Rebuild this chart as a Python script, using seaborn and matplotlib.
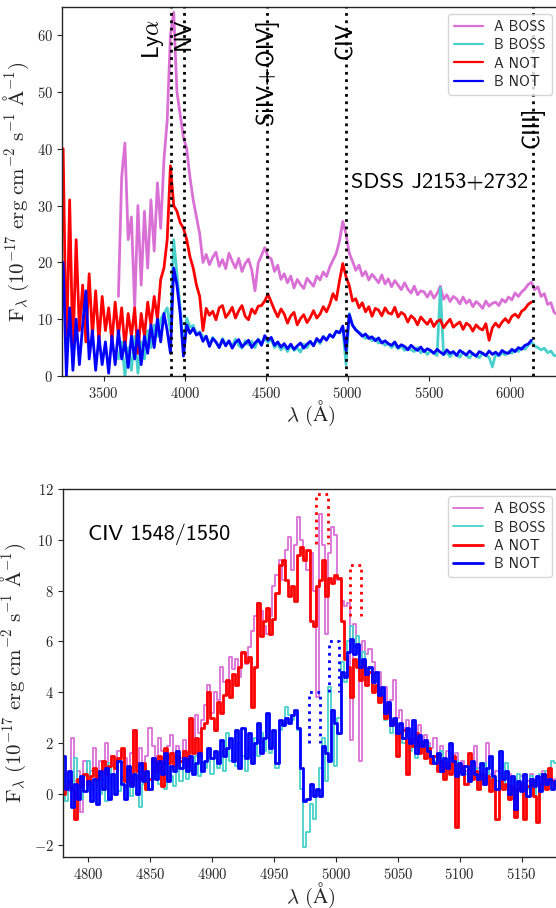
import numpy as np
import pandas as pd
import matplotlib
matplotlib.use("Agg")
import matplotlib.pyplot as plt
import seaborn as sns

# ---------------- data: top panel (full spectra), 20 A sampling ----------------
top_step = 20.0
a_not_start = 3250.0
a_not_flux = [40, 3, 31, 4, 24, 8, 16, 6, 18, 7,
              15, 6, 14, 8, 12, 6, 13, 7, 12, 5,
              11, 7, 12, 4, 11, 7, 13, 9, 14, 10,
              17, 19, 24, 37, 30, 29, 27, 26, 24, 21,
              19, 16, 14,
              8, 11.9, 10.7, 11.4, 9.9, 12.0, 12.4, 10.3, 11.1, 12.1,
              10.2, 11.5, 12.4, 10.5, 9.9, 11.8, 11.0, 12.3, 12.4, 13.2,
              14.4, 13.0, 11.6, 10.4, 11.8, 10.9, 9.3, 10.6, 11.2, 9.0,
              10.1, 10.8, 9.4, 10.3, 11.5, 10.2, 10.9, 12.2, 11.3, 12.6,
              14.5, 13.4, 16.8, 19.8, 17.5, 15.9, 13.2, 13.6, 12.0, 12.9,
              11.3, 12.2, 10.5, 11.9, 11.6, 10.6, 12.0, 11.1, 10.9, 12.1,
              10.4, 11.2, 10.8, 9.5, 10.6, 10.1, 9.0, 10.4, 9.7, 9.1,
              10.0, 8.7, 9.6, 9.9, 8.5, 9.3, 10.0, 8.6, 9.1, 9.5,
              8.2, 9.3, 8.9, 7.9, 9.0, 8.4, 8.1, 9.2, 6.3, 8.5,
              9.3, 8.6, 9.5, 10.1, 9.4, 10.5, 10.9, 10.3, 11.4, 11.8,
              12.6, 13.0]
b_not_start = 3250.0
b_not_flux = [20, 0, 12, 1, 10, 2, 9, 15, 3, 8,
              1, 7, 2, 6, 0.5, 7, 2, 8, 3, 6,
              1.5, 7, 3, 8, 2, 7, 4, 9, 5, 10,
              6, 11, 8, 4, 19, 16, 11, 3.5, 9, 7.5,
              8.4, 7.2, 7.6, 6.1, 7.0, 5.2, 6.6, 6.0, 5.0, 6.4,
              5.3, 6.2, 4.9, 5.9, 6.4, 5.1, 5.7, 6.3, 5.0, 5.8,
              6.4, 5.4, 7.1, 6.3, 6.8, 5.4, 6.0, 5.1, 5.7, 4.8,
              5.6, 4.7, 5.3, 5.8, 4.9, 5.6, 6.1, 5.3, 6.6, 6.0,
              6.9, 6.3, 7.3, 6.8, 7.9, 7.6, 8.8, 4.5, 10.8, 8.9,
              8.1, 7.6, 7.0, 7.4, 6.6, 6.9, 6.2, 6.7, 5.8, 6.2,
              5.7, 5.4, 6.0, 5.0, 5.5, 5.2, 4.6, 5.4, 4.9, 4.5,
              5.1, 4.3, 4.8, 4.5, 4.0, 4.7, 4.2, 3.8, 4.6, 4.0,
              4.3, 3.6, 4.5, 4.1, 3.7, 4.4, 3.9, 3.5, 4.3, 4.0,
              3.6, 4.4, 3.8, 4.2, 3.7, 4.5, 4.1, 4.0, 4.7, 4.3,
              5.0, 4.7, 5.4, 5.6, 6.3]
a_boss_start = 3590.0
a_boss_flux = [14, 35, 41, 24, 28, 12, 30, 16, 29, 19,
               31, 22, 34, 26, 38, 45, 60, 64, 50, 46,
               42, 40, 35, 31, 28, 25, 20,
               21.4, 19.6, 20.9, 21.8, 19.3, 20.5, 18.9, 21.6, 20.2, 19.0,
               20.7, 18.4, 19.8, 20.6, 18.7, 15.0, 19.9, 21.2, 22.6, 21.0,
               20.6, 18.4, 19.5, 17.0, 18.0, 16.4, 17.6, 15.5, 17.0, 16.1,
               15.4, 17.2, 16.5, 15.8, 17.6, 16.9, 18.3, 17.5, 19.2, 20.4,
               21.6, 23.8, 27.2, 25.0, 21.6, 20.2, 18.6, 19.5, 17.6, 18.4,
               16.9, 17.9, 17.2, 16.4, 17.8, 16.2, 17.1, 15.7, 16.8, 16.0,
               15.2, 16.4, 15.3, 14.6, 15.8, 14.3, 15.0, 14.8, 13.9, 14.9,
               13.7, 14.5, 15.8, 13.5, 14.3, 13.1, 14.0, 13.6, 12.7, 13.9,
               12.8, 13.4, 12.2, 13.1, 12.6, 11.9, 13.2, 12.3, 12.8, 13.0,
               12.4, 13.5, 13.0, 13.9, 13.4, 14.6, 14.0, 14.8, 15.3, 16.1,
               16.5, 15.2, 15.7, 14.0, 14.5, 12.6, 12.9, 11.2, 10.8]
b_boss_start = 3590.0
b_boss_flux = [3, 6, 0, 5, 1, 7, 0.5, 6, 3, 8,
               5, 9, 7, 10, 11, 12, 8, 24, 18, 12,
               5,
               10.2, 8.6, 8.9, 7.3, 7.8, 6.8, 7.0, 5.5, 6.8, 5.9,
               5.0, 6.6, 5.6, 6.1, 5.2, 6.5, 5.4, 4.9, 6.2, 5.5,
               6.1, 5.0, 6.5, 5.7, 6.6, 5.9, 6.5, 5.0, 5.6, 4.6,
               5.3, 4.3, 5.5, 4.5, 4.9, 4.2, 5.6, 5.0, 6.0, 5.4,
               6.4, 5.7, 7.0, 6.4, 7.2, 6.9, 7.8, 7.6, 8.5, 2.0,
               11.0, 9.0, 8.2, 7.7, 7.2, 6.6, 7.0, 6.2, 6.6, 5.8,
               6.1, 5.4, 5.7, 5.0, 5.6, 4.8, 5.3, 4.5, 5.0, 4.6,
               4.3, 5.0, 4.1, 4.6, 3.8, 4.4, 4.0, 3.6, 15.5, 3.7,
               4.2, 3.4, 4.1, 3.8, 3.3, 4.2, 3.6, 3.2, 4.0, 3.5,
               3.2, 4.0, 3.6, 3.3, 1.6, 3.8, 3.5, 4.1, 3.7, 4.3,
               4.0, 4.6, 4.3, 5.0, 4.7, 5.4, 6.0, 5.3, 5.0, 4.6,
               4.9, 4.1, 4.4, 3.6, 3.6]

line_names = [r"Ly$\alpha$", "NV", "SiIV+OIV]", "CIV", "CIII]"]
line_waves = [3911, 3991, 4502, 4988, 6138]
line_label_x = [3803, 3991, 4502, 4988, 6138]
line_label_top = [62.8, 63.0, 63.0, 62.3, 47.4]

# ---------------- data: bottom panel (CIV zoom), 2.5 A sampling ----------------
zoom_start = 4780.0
zoom_step = 2.5
a_not_civ = [0.0, 0.3, 0.5, 0.2, -1.0, 0.6, 0.3, 0.8, 0.4, 0.7,
             1.0, 0.6, 0.9, 1.3, 0.8, 1.1, 1.5, 1.0, 1.4, 1.8,
             0.5, 1.0, 0.4, 2.5, 0.9, 0.6, 1.2, 0.2, 0.6, 1.4,
             0.9, 1.5, 0.3, 1.8, 1.2, 1.6, 1.1, 1.5, 1.3, 1.7,
             1.1, 3.0, 1.6, 2.2, 1.5, 2.6, 2.8, 4.0, 3.0, 2.5,
             3.6, 3.2, 3.9, 4.5, 3.8, 4.7, 4.3, 5.0, 5.6, 5.2,
             5.4, 3.4, 5.0, 7.5, 6.2, 6.8, 7.3, 6.3, 6.9, 7.9,
             9.0, 9.2, 8.4, 7.8, 8.2, 7.6, 9.4, 9.7, 9.2, 9.6,
             6.8, 6.6, 8.2, 8.4, 9.2, 7.8, 8.5, 8.3, 8.6, 8.5,
             6.8, 5.3, 5.0, 3.8, 5.3, 5.0, 4.5, 5.2, 4.3, 4.8,
             4.0, 4.3, 3.6, 3.8, 3.0, 3.5, 2.7, 2.9, 1.5, 2.4,
             2.5, 0.8, 2.2, 1.9, 2.4, 1.6, 2.0, 1.4, 1.8, 1.2,
             1.5, 0.9, 1.3, 0.6, 1.2, 0.8, 1.5, -1.3, 0.9, 1.1,
             0.4, 1.6, 0.6, 0.9, 0.2, 0.8, 0.4, 0.7, 0.1, 0.6,
             -1.0, 0.5, 0.2, 0.4, -0.2, 0.3, -0.9, 0.2, 0.4, -1.0,
             0.3, 0.6, -0.1, -1.1, 0.4, 0.8, 0.2, 1.0, 0.5, 0.3]
a_boss_civ = [0.3, 0.8, 0.1, 2.2, 0.5, 0.9, -0.7, 1.3, 0.4, 0.9,
              1.8, 0.7, 1.3, 0.9, 2.0, 1.0, 1.5, 0.8, 1.7, 1.2,
              1.4, 0.9, 1.6, 2.5, 1.2, 1.8, 1.1, 1.5, 2.6, 1.9,
              1.5, 2.2, 1.7, 1.3, 1.9, 2.3, 1.6, 1.9, 1.4, 2.1,
              1.6, 2.2, 1.8, 3.1, 2.4, 2.9, 3.5, 4.3, 3.2, 4.0,
              3.7, 5.0, 4.4, 3.9, 5.4, 4.9, 5.3, 4.6, 5.5, 5.1,
              5.8, 6.4, 7.0, 7.5, 7.2, 6.6, 6.3, 7.0, 8.2, 8.6,
              9.2, 8.4, 9.6, 10.1, 8.8, 9.8, 10.9, 10.0, 9.3, 8.8,
              9.5, 8.0, 3.8, 11.0, 9.8, 6.3, 9.5, 10.5, 10.2, 8.4,
              7.6, 7.4, 7.5, 2.1, 6.7, 5.8, 1.3, 6.0, 5.5, 5.7,
              5.2, 4.6, 4.8, 3.9, 4.2, 3.4, 3.7, 4.5, 3.0, 3.3,
              2.6, 2.9, 2.2, 2.8, 2.4, 2.7, 1.9, 2.3, 2.0, 1.8,
              2.2, 1.5, 1.9, 1.2, 1.7, 1.4, 1.1, 1.6, 1.0, 1.3,
              0.9, 1.2, 0.7, 1.9, 1.0, 0.6, 1.1, 2.0, 0.8, 0.5,
              0.9, 0.4, 0.7, 0.3, 0.8, 0.2, 0.6, 0.4, 0.7, 0.3,
              0.5, 0.8, 0.2, 0.6, 0.4, 0.9, 0.3, 0.7, 0.5, 0.6]
b_not_civ = [1.5, 0.2, 0.9, -0.5, 0.4, -0.2, 0.7, 0.1, 0.5, -0.3,
             0.6, -0.4, 0.9, 0.2, 1.0, -0.2, 0.8, 0.0, 1.3, 0.4,
             -0.2, 1.1, 0.3, 0.8, 0.0, 1.2, 0.5, 0.9, 0.2, 1.4,
             0.6, 1.3, 0.8, 1.6, 0.5, 1.1, 0.9, 1.7, 1.0, 1.4,
             0.9, 1.5, 0.8, 1.2, 1.6, 0.9, 1.3, 1.8, 1.4, 1.7,
             1.2, 2.1, 1.5, 1.8, 2.2, 1.3, 2.5, 1.0, 2.6, 1.4,
             2.4, 1.2, 2.0, 2.8, 1.6, 2.2, 3.2, 1.8, 2.5, 1.2,
             2.9, 2.7, 3.0, 2.8, 3.1, 3.3, 2.6, 1.0, -0.3, -0.2,
             0.4, -0.1, 0.2, -0.1, 1.9, 1.6, 1.3, 3.3, 2.8, 2.4,
             4.8, 4.6, 5.6, 6.1, 5.5, 5.9, 5.0, 5.3, 4.7, 5.0,
             4.4, 4.8, 3.9, 4.2, 3.2, 3.6, 2.7, 3.0, 2.4, 2.8,
             2.2, 2.6, 2.0, 2.9, 1.6, 2.3, 1.9, 2.1, 1.7, 1.5,
             1.2, 1.6, 0.9, 1.4, 1.0, 2.0, 1.3, 0.7, 1.2, 0.8,
             1.1, 0.5, 1.3, 0.8, 0.6, 1.2, 0.4, 1.0, 1.5, 0.7,
             0.2, 1.7, 0.6, 0.9, 0.0, 0.7, -0.6, 0.5, 0.1, 0.8,
             -0.1, 0.6, 0.3, 0.7, 0.1, 0.8, 0.4, 0.6, 0.2, 0.5]
b_boss_civ = [0.8, -0.3, 0.6, 0.1, 1.4, 0.3, -0.2, 0.7, 1.3, 0.2,
              0.5, 0.9, 0.0, 0.6, -0.3, 1.2, 0.4, 0.8, 0.1, 0.7,
              0.3, 0.9, -0.1, 0.5, 1.1, -0.5, 0.4, 0.8, 0.2, 0.6,
              1.2, 0.4, 0.9, 0.2, 1.5, 0.7, 0.3, 1.0, 0.5, 1.3,
              0.6, 1.1, 0.9, 1.5, 0.7, 1.2, 1.0, 1.6, 0.8, 1.4,
              1.0, 1.6, 0.9, 2.4, 1.3, 1.8, 1.1, 2.0, 1.5, 0.9,
              1.8, 1.2, 2.2, 1.5, 2.4, 1.7, 3.1, 1.6, 2.0, 1.0,
              2.5, 2.8, 3.4, 3.1, 2.9, 3.2, 2.5, 0.2, -2.1, -1.5,
              -0.4, -1.0, 0.1, 1.0, 2.2, 0.5, 4.2, 3.3, 1.1, 3.0,
              5.2, 4.4, 6.0, 6.6, 5.8, 6.2, 5.2, 5.6, 4.5, 4.9,
              4.1, 4.5, 3.6, 4.0, 2.9, 3.3, 2.4, 2.8, 2.2, 2.5,
              2.0, 2.4, 1.7, 2.5, 1.4, 2.1, 1.6, 2.0, 1.9, 1.4,
              1.3, 1.1, 1.7, 1.2, 0.8, 1.6, 1.0, 1.3, 0.9, 1.1,
              0.8, 1.3, 0.6, 1.0, 0.9, 0.5, 1.2, 0.7, 1.4, 0.6,
              0.5, 1.0, 0.3, 1.2, -0.2, 0.6, 0.1, 0.8, 0.3, 0.4,
              0.2, 0.7, -0.1, 0.5, 0.8, 0.3, 0.9, 0.6, 1.3, 1.2]

# absorption doublet markers (left edge, right edge, bottom, top)
absA_x0 = [4984.0, 5011.6]
absA_x1 = [4993.3, 5020.2]
absA_y0 = [9.85, 7.0]
absA_y1 = [11.8, 9.0]
absB_x0 = [4977.9, 4994.1]
absB_x1 = [4986.8, 5002.7]
absB_y0 = [2.0, 4.0]
absB_y1 = [4.0, 6.0]

series_names = ["A BOSS", "B BOSS", "A NOT", "B NOT"]
series_colors = ["orchid", "mediumturquoise", "red", "blue"]

# ---------------- style ----------------
sns.set_theme(style="ticks")
plt.rcParams.update({
    "font.family": "serif",
    "font.serif": ["cmr10"],
    "mathtext.fontset": "cm",
    "axes.formatter.use_mathtext": True,
    "axes.unicode_minus": True,
    "xtick.labelsize": 10.5,
    "ytick.labelsize": 10.5,
    "xtick.major.size": 3.5,
    "ytick.major.size": 3.5,
    "xtick.major.width": 0.8,
    "ytick.major.width": 0.8,
    "axes.linewidth": 1.0,
    "axes.edgecolor": "0.15",
})
SANS = "cmss10"

fig = plt.figure(figsize=(5.56, 9.08), dpi=100)
ax1 = fig.add_axes([0.1124, 0.5859, 0.893, 0.4067])
ax2 = fig.add_axes([0.1138, 0.0558, 0.8915, 0.4056])

def top_frame(start, flux):
    flux = np.asarray(flux, dtype=float)
    return pd.DataFrame({"wave": start + top_step * np.arange(len(flux)), "flux": flux})

top_data = [(a_boss_start, a_boss_flux), (b_boss_start, b_boss_flux),
            (a_not_start, a_not_flux), (b_not_start, b_not_flux)]
for (st, fl), name, col in zip(top_data, series_names, series_colors):
    df = top_frame(st, fl)
    sns.lineplot(data=df, x="wave", y="flux", ax=ax1, color=col, lw=2.0,
                 label=name, estimator=None)

for w, lx, ly, nm in zip(line_waves, line_label_x, line_label_top, line_names):
    ax1.axvline(w, color="black", ls=":", lw=2, zorder=5)
    ax1.text(lx, ly, nm, rotation=90, ha="center", va="top", fontsize=17,
             family=SANS, color="black", zorder=6)
ax1.text(5020, 33.1, "SDSS J2153+2732", fontsize=16, family=SANS,
         ha="left", va="baseline", color="black")

ax1.set_xlim(3246, 6300)
ax1.set_ylim(0, 65)
ax1.set_xticks([3500, 4000, 4500, 5000, 5500, 6000])
ax1.set_yticks([0, 10, 20, 30, 40, 50, 60])
ylab = r"$\mathrm{F}_{\lambda}\ (10^{-17}\ \mathrm{erg\ cm^{-2}\ s^{-1}\ \AA^{-1}})$"
xlab = r"$\lambda\ (\mathrm{\AA})$"
ax1.set_xlabel(xlab, fontsize=15, labelpad=-1)
ax1.set_ylabel(ylab, fontsize=15)
leg1 = ax1.legend(loc="upper right", prop={"family": SANS, "size": 10.5},
                  labelspacing=0.3, handlelength=2.0)
for h in leg1.get_lines():
    h.set_linewidth(1.6)

# bottom panel
civ_data = [a_boss_civ, b_boss_civ, a_not_civ, b_not_civ]
civ_lw = [1.3, 1.3, 2.0, 2.0]
for fl, name, col, lw in zip(civ_data, series_names, series_colors, civ_lw):
    fl = np.asarray(fl, dtype=float)
    df = pd.DataFrame({"wave": zoom_start + zoom_step * np.arange(len(fl)), "flux": fl})
    sns.lineplot(data=df, x="wave", y="flux", ax=ax2, color=col, lw=lw,
                 label=name, estimator=None, drawstyle="steps-mid")

for x0, x1, y0, y1 in zip(absA_x0, absA_x1, absA_y0, absA_y1):
    ax2.plot([x0, x0, x1, x1], [y0, y1, y1, y0], color="red", ls=":", lw=2, zorder=6)
for x0, x1, y0, y1 in zip(absB_x0, absB_x1, absB_y0, absB_y1):
    ax2.plot([x0, x0, x1, x1], [y0, y1, y1, y0], color="blue", ls=":", lw=2, zorder=6)

ax2.text(4800, 10.0, "CIV 1548/1550", fontsize=16, family=SANS,
         ha="left", va="baseline", color="black")
ax2.set_xlim(4780, 5180)
ax2.set_ylim(-2.5, 12)
ax2.set_xticks([4800, 4850, 4900, 4950, 5000, 5050, 5100, 5150])
ax2.set_yticks([-2, 0, 2, 4, 6, 8, 10, 12])
ax2.set_xlabel(xlab, fontsize=15, labelpad=-1)
ax2.set_ylabel(ylab, fontsize=15)
ax2.legend(loc="upper right", prop={"family": SANS, "size": 10.5},
           labelspacing=0.3, handlelength=2.0)

fig.savefig("out.png", dpi=100)
